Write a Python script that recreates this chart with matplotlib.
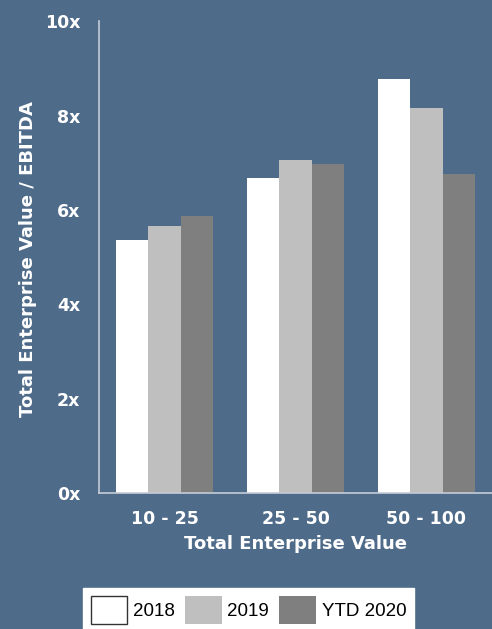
import numpy as np
import matplotlib
matplotlib.use('Agg')
from matplotlib import pyplot as plt
from matplotlib.patches import Patch
from matplotlib.ticker import FuncFormatter

# data
categories = ['10 - 25', '25 - 50', '50 - 100']
series_names = ['2018', '2019', 'YTD 2020']
values_2018 = [5.37, 6.68, 8.78]
values_2019 = [5.67, 7.07, 8.17]
values_ytd2020 = [5.87, 6.98, 6.77]

bg = '#4f6b8a'
colors = ['#ffffff', '#bfbfbf', '#7f7f7f']

plt.rcParams['font.family'] = ['DejaVu Sans']

fig = plt.figure(figsize=(4.92, 6.29), dpi=100, facecolor=bg)
ax = fig.add_axes([99 / 492, 1 - 493 / 629, 1 - 99 / 492, (493 - 21.5) / 629])
ax.set_facecolor(bg)

x = np.arange(len(categories))
width = 0.245
for i, (vals, col) in enumerate(zip([values_2018, values_2019, values_ytd2020], colors)):
    ax.bar(x + (i - 1) * width, vals, width, color=col, edgecolor='none')

ax.set_xlim(-0.5, 2.5)
ax.set_ylim(0, 10)
ax.set_yticks([0, 2, 4, 6, 8, 10])
ax.yaxis.set_major_formatter(FuncFormatter(lambda v, p: f'{v:g}x'))
ax.set_xticks(x)
ax.set_xticklabels(categories)

for s in ['top', 'right']:
    ax.spines[s].set_visible(False)
for s in ['left', 'bottom']:
    ax.spines[s].set_color('#c5ccd6')
    ax.spines[s].set_linewidth(1.2)

ax.tick_params(axis='both', length=0, colors='white', labelsize=12.5)
ax.tick_params(axis='y', pad=13.5)
ax.tick_params(axis='x', pad=12)
for lab in ax.get_xticklabels() + ax.get_yticklabels():
    lab.set_fontweight('bold')

ax.set_xlabel('Total Enterprise Value', color='white', fontsize=13,
              fontweight='bold', labelpad=5)
fig.text(28 / 492, 1 - 259 / 629, 'Total Enterprise Value / EBITDA', color='white',
         fontsize=13, fontweight='bold', rotation=90, ha='center', va='center')

handles = [Patch(facecolor=colors[0], edgecolor='#333333', linewidth=1),
           Patch(facecolor=colors[1], edgecolor='none'),
           Patch(facecolor=colors[2], edgecolor='none')]
leg = fig.legend(handles, series_names, loc='upper center', ncol=3,
                 bbox_to_anchor=(0.505, 1 - 588 / 629), borderaxespad=0,
                 frameon=True, fancybox=False,
                 facecolor='white', edgecolor='white', framealpha=1,
                 prop={'family': 'Liberation Sans', 'size': 13.5},
                 handlelength=1.95, handleheight=1.95, handletextpad=0.3,
                 columnspacing=0.55, borderpad=0.4)
for t in leg.get_texts():
    t.set_color('black')

fig.savefig('out.png', dpi=100, facecolor=bg)
